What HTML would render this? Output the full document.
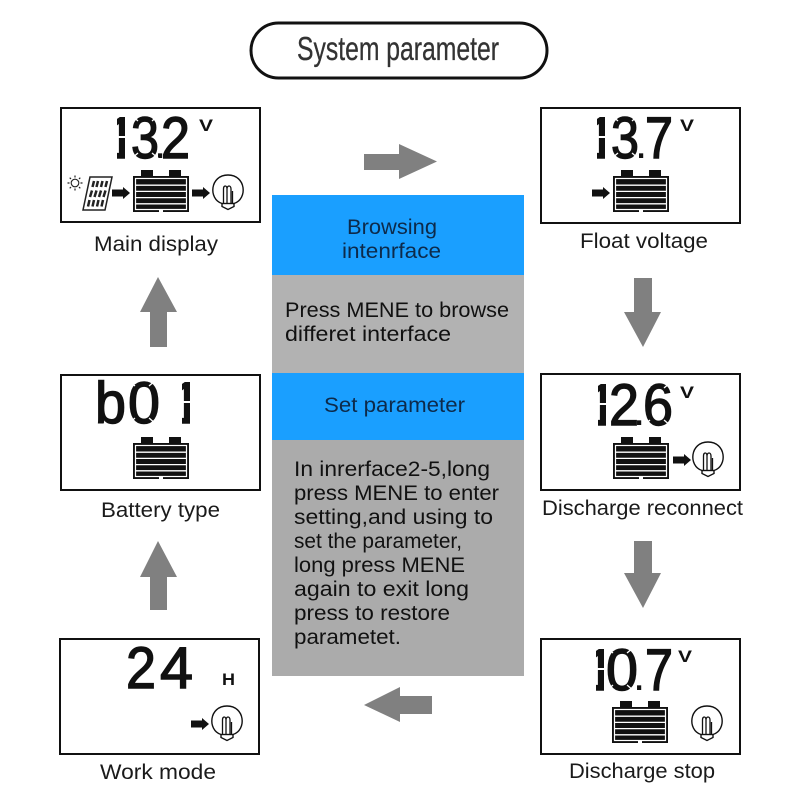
<!DOCTYPE html>
<html><head><meta charset="utf-8"><style>
html,body{margin:0;padding:0;background:#fff}
svg{display:block}
text{font-family:"Liberation Sans",sans-serif}
.l{font-size:21.5px;fill:#1a1a1a}
.d{font-size:58px;fill:#111;stroke:#111;stroke-width:1.4px}
.p{font-size:44px;fill:#111}
.u{font-size:17px;font-weight:700;fill:#111}
</style></head><body>
<svg width="800" height="800" viewBox="0 0 800 800" xmlns="http://www.w3.org/2000/svg">
<defs>
<g id="bat">
<rect x="8" y="0" width="12" height="8" fill="#111"/><rect x="36" y="0" width="12" height="8" fill="#111"/>
<rect x="0" y="6" width="56" height="36" fill="#111"/>
<rect x="2.500" y="8.500" width="51" height="31" fill="none" stroke="#fff" stroke-width="1.200"/>
<path d="M3 15.200H53M3 21.400H53M3 27.600H53M3 33.800H53" stroke="#fff" stroke-width="1.300"/>
<rect x="26" y="39.500" width="4" height="2.500" fill="#fff"/>
</g>
<g id="bulb" fill="none" stroke="#111" stroke-width="1.400">
<path d="M-6 12H6V16.500L0 19.500L-6 16.500Z" fill="#fff"/>
<path d="M-6 13.500C-20 9-18-15 0-15C18-15 20 9 6 13.500" fill="#fff"/>
<path d="M-6 13.500H6"/>
<path d="M-4.500 13V-1C-4.500-5-1-5-1-1V13M-1-1C-1-5 3-5 3-1V13M4.500 1V13" stroke-width="1.300"/>
</g>
<path id="arr" d="M0-3.500H11V-6L18 0L11 6V3.500H0Z" fill="#111"/>
<g id="gap" stroke="#fff" stroke-width="1.300" fill="none">
<path d="M-2-1L5 5M26-1L19 5M-2 43L5 37M26 43L19 37"/>
</g>
<clipPath id="c1"><rect x="117" y="112" width="8" height="48"/></clipPath>
<clipPath id="c2"><rect x="597" y="112" width="8" height="48"/></clipPath>
<clipPath id="c3"><rect x="598" y="378" width="8" height="48"/></clipPath>
<clipPath id="c4"><rect x="596" y="644" width="8" height="48"/></clipPath>
<clipPath id="c5"><rect x="182" y="378" width="8" height="48"/></clipPath>
</defs>

<rect x="251" y="23" width="296" height="55" rx="27.500" fill="#fff" stroke="#111" stroke-width="3"/>
<text x="297" y="60" font-size="33" fill="#333" stroke="#333" stroke-width="0.300" textLength="202" lengthAdjust="spacingAndGlyphs">System parameter</text>

<g fill="#fff" stroke="#111" stroke-width="2">
<rect x="61" y="108" width="199" height="114"/>
<rect x="541" y="108" width="199" height="115"/>
<rect x="61" y="375" width="199" height="115"/>
<rect x="541" y="374" width="199" height="116"/>
<rect x="60" y="639" width="199" height="115"/>
<rect x="541" y="639" width="199" height="115"/>
</g>

<rect x="272" y="195" width="252" height="80" fill="#1a9fff"/>
<rect x="272" y="275" width="252" height="98" fill="#b2b2b2"/>
<rect x="272" y="373" width="252" height="67" fill="#1a9fff"/>
<rect x="272" y="440" width="252" height="236" fill="#ababab"/>

<g font-size="21.500" fill="#0d2a4a">
<text x="347" y="234" textLength="90" lengthAdjust="spacingAndGlyphs">Browsing</text>
<text x="342" y="258" textLength="99" lengthAdjust="spacingAndGlyphs">intenrface</text>
<text x="324" y="412" textLength="141" lengthAdjust="spacingAndGlyphs">Set parameter</text>
</g>
<g font-size="21.500" fill="#111">
<text x="285" y="317" textLength="224" lengthAdjust="spacingAndGlyphs">Press MENE to browse</text>
<text x="285" y="341" textLength="166" lengthAdjust="spacingAndGlyphs">differet interface</text>
<text x="294" y="476" textLength="196" lengthAdjust="spacingAndGlyphs">In inrerface2-5,long</text>
<text x="294" y="500" textLength="205" lengthAdjust="spacingAndGlyphs">press MENE to enter</text>
<text x="294" y="524" textLength="199" lengthAdjust="spacingAndGlyphs">setting,and using to</text>
<text x="294" y="548" textLength="168" lengthAdjust="spacingAndGlyphs">set the parameter,</text>
<text x="294" y="572" textLength="171" lengthAdjust="spacingAndGlyphs">long press MENE</text>
<text x="294" y="596" textLength="175" lengthAdjust="spacingAndGlyphs">again to exit long</text>
<text x="294" y="620" textLength="156" lengthAdjust="spacingAndGlyphs">press to restore</text>
<text x="294" y="644" textLength="107" lengthAdjust="spacingAndGlyphs">parametet.</text>
</g>

<g fill="#808080">
<path d="M364 154H399V144L437 161.500L399 179V170H364Z"/>
<path d="M634 278H652V312H661L643 347L624 312H634Z"/>
<path d="M634 541H652V573H661L643 608L624 573H634Z"/>
<path d="M432 696V714H400V722L364 705L400 687V696Z"/>
<path d="M150 347H167V312H177L158 277L140 312H150Z"/>
<path d="M150 610H167V577H177L158 541L140 577H150Z"/>
</g>

<text class="d" x="105" y="158" clip-path="url(#c1)">1</text>
<text class="d" x="131" y="158" textLength="28" lengthAdjust="spacingAndGlyphs">3</text>
<text class="p" x="154" y="158">.</text>
<text class="d" x="161" y="158" textLength="29" lengthAdjust="spacingAndGlyphs">2</text>

<text class="d" x="585" y="158" clip-path="url(#c2)">1</text>
<text class="d" x="611" y="158" textLength="28" lengthAdjust="spacingAndGlyphs">3</text>
<text class="p" x="635" y="158">.</text>
<text class="d" x="645" y="158" textLength="28" lengthAdjust="spacingAndGlyphs">7</text>

<text class="d" x="586" y="425" clip-path="url(#c3)">1</text>
<text class="d" x="609" y="425" textLength="30" lengthAdjust="spacingAndGlyphs">2</text>
<text class="p" x="633" y="425">.</text>
<text class="d" x="643" y="425" textLength="30" lengthAdjust="spacingAndGlyphs">6</text>

<text class="d" x="584" y="690" clip-path="url(#c4)">1</text>
<text class="d" x="606" y="690" textLength="32" lengthAdjust="spacingAndGlyphs">0</text>
<text class="p" x="633" y="690">.</text>
<text class="d" x="645" y="690" textLength="28" lengthAdjust="spacingAndGlyphs">7</text>

<text class="d" x="95" y="423" textLength="31" lengthAdjust="spacingAndGlyphs">b</text>
<text class="d" x="128" y="423" textLength="32" lengthAdjust="spacingAndGlyphs">0</text>
<text class="d" x="170" y="423" clip-path="url(#c5)">1</text>

<text class="d" x="126" y="688" textLength="30" lengthAdjust="spacingAndGlyphs">2</text>
<text class="d" x="160" y="688" textLength="33" lengthAdjust="spacingAndGlyphs">4</text>

<use href="#gap" x="133" y="116"/>
<use href="#gap" x="613" y="116"/>
<use href="#gap" x="645" y="383"/>
<use href="#gap" x="608" y="648"/>
<use href="#gap" x="130" y="381"/>
<path d="M116 137H126M596 137H606M597 404H607M595 669H605M181 402H191" stroke="#fff" stroke-width="2"/>

<text class="u" x="199" y="131" textLength="14" lengthAdjust="spacingAndGlyphs">V</text>
<text class="u" x="680" y="131" textLength="14" lengthAdjust="spacingAndGlyphs">V</text>
<text class="u" x="680" y="398" textLength="14" lengthAdjust="spacingAndGlyphs">V</text>
<text class="u" x="678" y="662" textLength="14" lengthAdjust="spacingAndGlyphs">V</text>
<text class="u" x="222" y="685" textLength="13" lengthAdjust="spacingAndGlyphs">H</text>

<g stroke="#222" fill="none">
<circle cx="75" cy="183" r="3.800" stroke-width="1.100"/>
<path d="M75 175.500V177.500M75 188.500V190.500M67.500 183H69.500M80.500 183H82.500M69.700 177.700L71 179M79 187L80.300 188.300M69.700 188.300L71 187M79 179L80.300 177.700" stroke-width="1.200"/>
<path d="M90 177H112L105 210H83Z" fill="#fff" stroke-width="1.500"/>
<path d="M94 181L92.500 187M98 181L96.500 187M102.500 181L101 187M107 181L105.500 187M92 190.500L90 197M96.500 190.500L94.500 197M101 190.500L99 197M105.500 190.500L103.500 197M89.500 200L88 206.500M94 200L92.500 206.500M98.500 200L97 206.500M103 200L101.500 206.500" stroke-width="2.500"/>
</g>

<use href="#arr" x="112" y="193"/>
<use href="#bat" x="133" y="170"/>
<use href="#arr" x="192" y="193"/>
<use href="#bulb" x="228" y="190"/>

<use href="#arr" x="592" y="193"/>
<use href="#bat" x="613" y="170"/>

<use href="#bat" x="613" y="437"/>
<use href="#arr" x="673" y="460"/>
<use href="#bulb" x="708" y="457"/>

<use href="#bat" x="133" y="437"/>

<use href="#bat" x="612" y="701"/>
<use href="#bulb" x="707" y="721"/>

<use href="#arr" x="191" y="724"/>
<use href="#bulb" x="227" y="721"/>

<text class="l" x="94" y="251" textLength="124" lengthAdjust="spacingAndGlyphs">Main display</text>
<text class="l" x="580" y="248" textLength="128" lengthAdjust="spacingAndGlyphs">Float voltage</text>
<text class="l" x="101" y="517" textLength="119" lengthAdjust="spacingAndGlyphs">Battery type</text>
<text class="l" x="542" y="515" textLength="201" lengthAdjust="spacingAndGlyphs">Discharge reconnect</text>
<text class="l" x="100" y="779" textLength="116" lengthAdjust="spacingAndGlyphs">Work mode</text>
<text class="l" x="569" y="778" textLength="146" lengthAdjust="spacingAndGlyphs">Discharge stop</text>
</svg>
</body></html>
